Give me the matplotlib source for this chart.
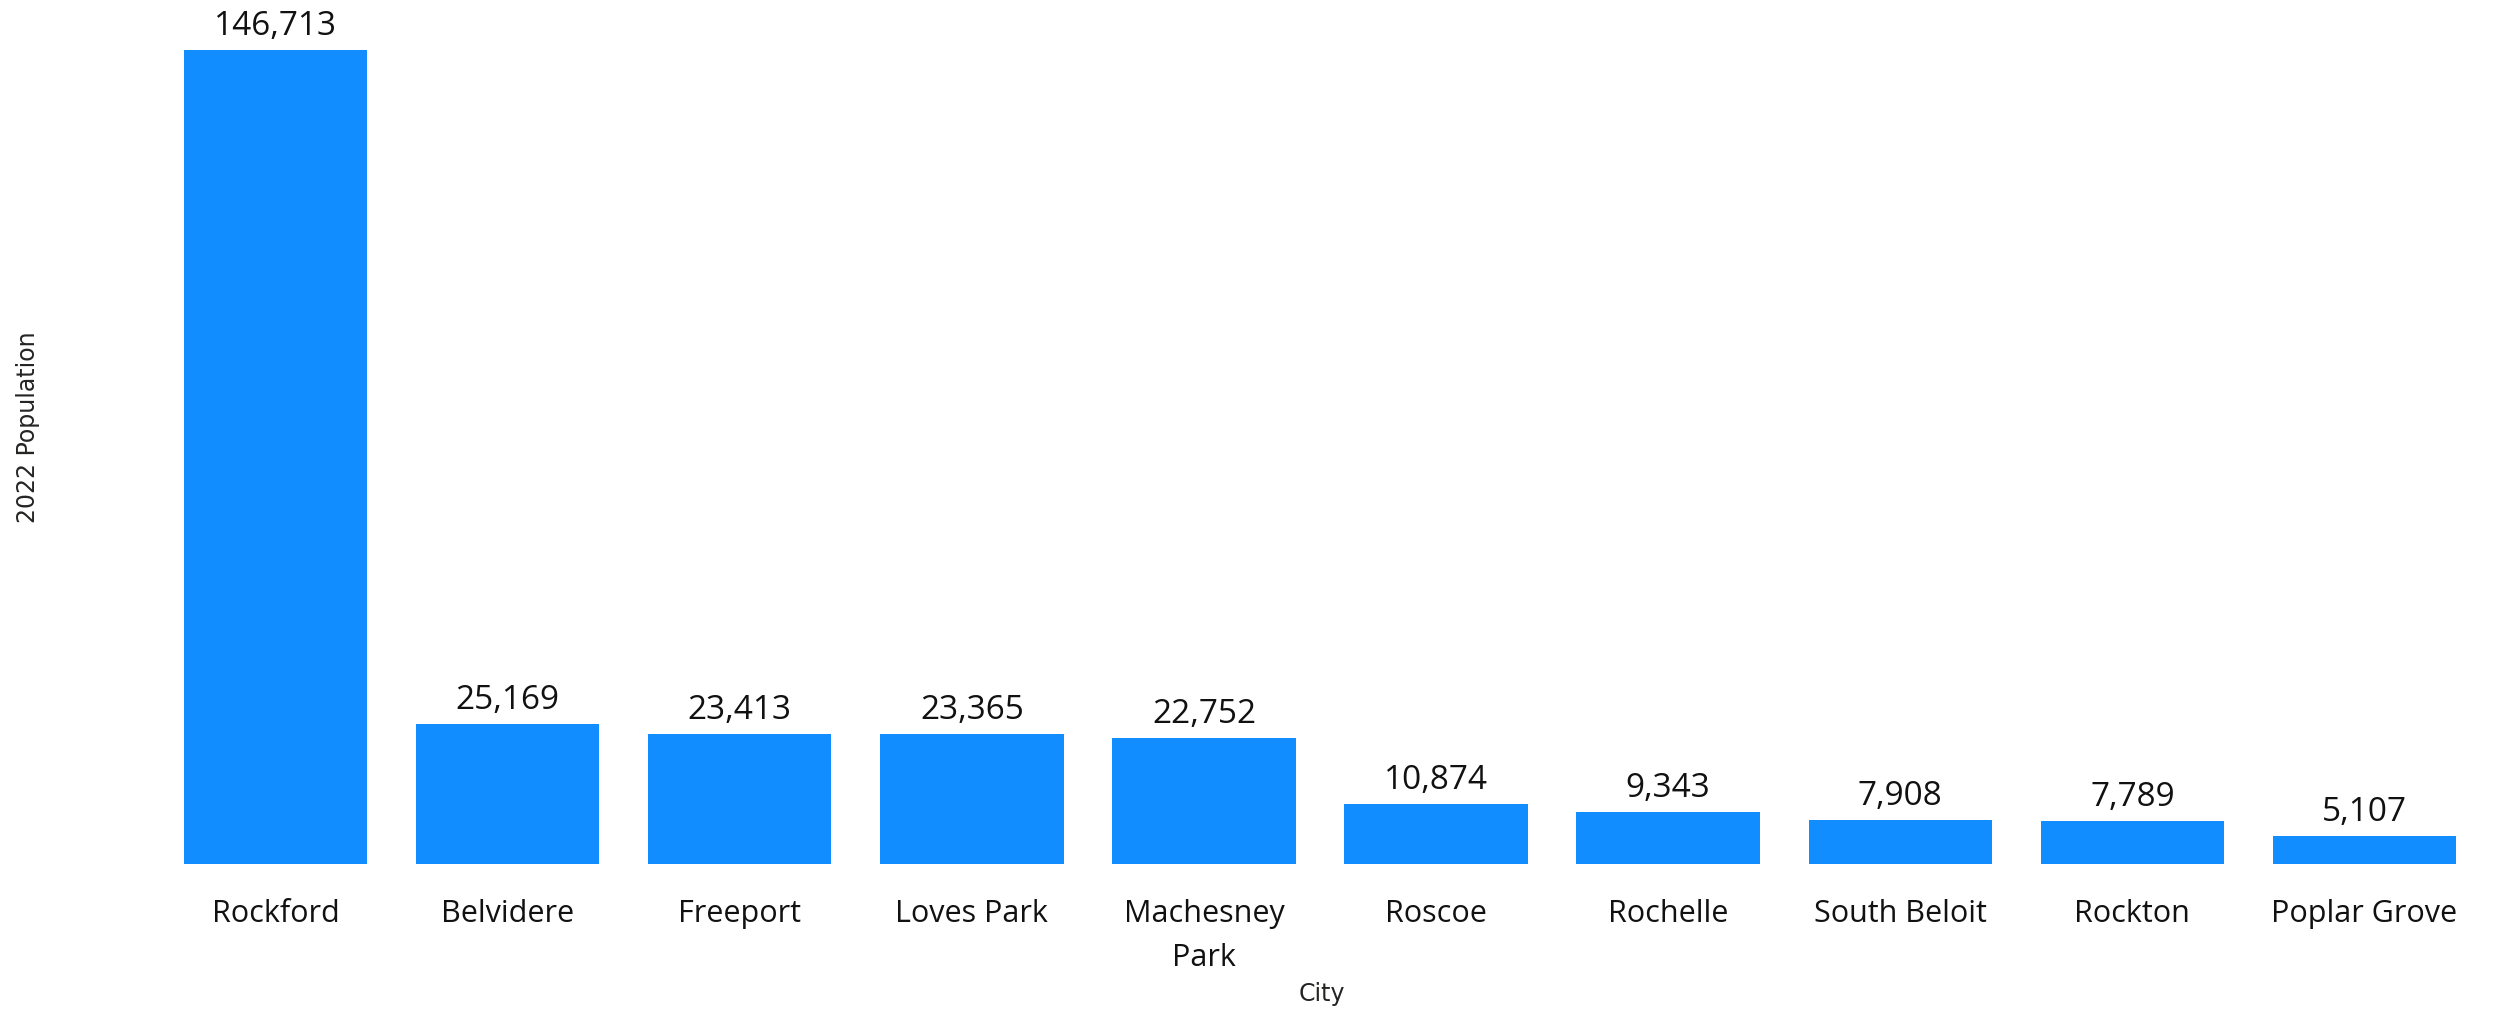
import matplotlib
matplotlib.use("Agg")
import matplotlib.pyplot as plt

cities = ["Rockford", "Belvidere", "Freeport", "Loves Park", "Machesney\nPark",
          "Roscoe", "Rochelle", "South Beloit", "Rockton", "Poplar Grove"]
population = [146713, 25169, 23413, 23365, 22752, 10874, 9343, 7908, 7789, 5107]

bar_color = "#118DFF"
text_color = "#111111"
W, H = 2496, 1009

plt.rcParams['font.family'] = ['Open Sans', 'DejaVu Sans']

fig = plt.figure(figsize=(W / 100, H / 100), dpi=100, facecolor="white")
# axes placed in pixel terms of the reference
left, right, top, bottom = 159.5, 2480.5, 50, 864
ax = fig.add_axes([left / W, 1 - bottom / H, (right - left) / W, (bottom - top) / H])

x = range(len(cities))
bars = ax.bar(x, population, width=0.79, color=bar_color)
ax.set_xlim(-0.5, len(cities) - 0.5)
ax.set_ylim(0, max(population))

for b, v in zip(bars, population):
    ax.annotate(f"{v:,}", (b.get_x() + b.get_width() / 2, v),
                xytext=(0, 10.8), textcoords="offset points",
                ha="center", va="baseline", fontsize=24, color=text_color,
                clip_on=False)

ax.set_xticks(list(x))
ax.set_xticklabels(cities, fontsize=22, color=text_color, linespacing=1.6)
ax.tick_params(axis="x", length=0, pad=25)
ax.set_yticks([])
for s in ax.spines.values():
    s.set_visible(False)

fig.text(27.5 / W, 1 - 427 / H, "2022 Population", rotation=90,
         ha="center", va="center", fontsize=17, color="#252423",
         family=['DejaVu Sans'])
fig.text(1322 / W, 1 - 1001 / H, "City", ha="center", va="baseline",
         fontsize=17, color="#252423", family=['DejaVu Sans'])

fig.savefig("out.png", dpi=100, facecolor="white")
